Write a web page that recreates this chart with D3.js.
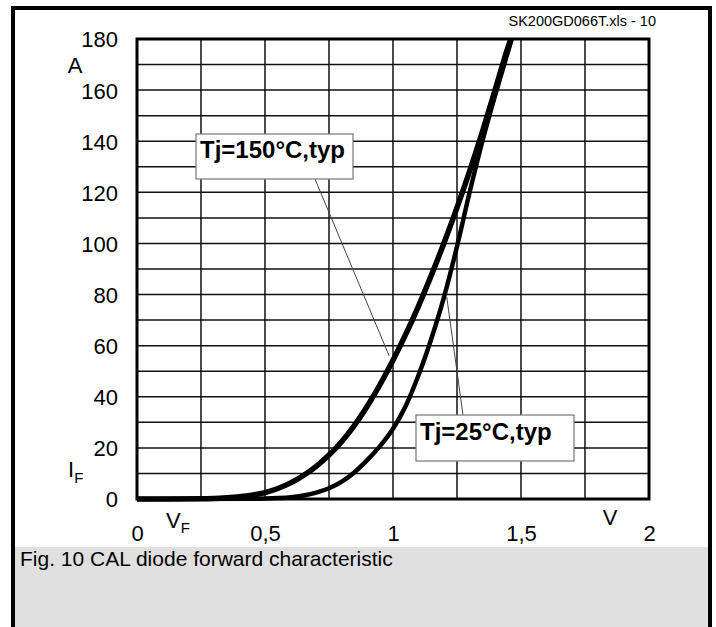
<!DOCTYPE html>
<html>
<head>
<meta charset="utf-8">
<script src="https://cdn.jsdelivr.net/npm/d3@7"></script>
<style>
  html, body { margin: 0; padding: 0; background: #fff; }
  svg { display: block; }
  text { font-family: "Liberation Sans", Arial, Helvetica, sans-serif; }
</style>
</head>
<body>
<svg id="chart" width="716" height="627"></svg>
<script>
// ---- data ----
const xTicks = [0, 0.5, 1, 1.5, 2];
const xTickLabels = ["0", "0,5", "1", "1,5", "2"];
const yTicks = [0, 20, 40, 60, 80, 100, 120, 140, 160, 180];
const yTickLabels = ["0", "20", "40", "60", "80", "100", "120", "140", "160", "180"];

// Tj = 150 °C, typ  (V_F in V, I_F in A)
const v150 = [0, 0.25, 0.30, 0.35, 0.40, 0.45, 0.50, 0.55, 0.60, 0.65, 0.70, 0.75, 0.80, 0.85, 0.90, 0.95, 1.00, 1.05, 1.10, 1.15, 1.20, 1.25, 1.30, 1.35, 1.40, 1.45, 1.46];
const i150 = [0, 0.05, 0.2, 0.5, 0.9, 1.5, 2.5, 4.1, 6.3, 9.2, 12.8, 17.2, 22.5, 28.9, 36.4, 44.9, 54.3, 64.5, 75.6, 87.6, 100.4, 114.0, 128.5, 144.0, 160.5, 177.0, 180];

// Tj = 25 °C, typ
const v25 = [0, 0.45, 0.50, 0.55, 0.60, 0.65, 0.70, 0.75, 0.80, 0.85, 0.90, 0.95, 1.00, 1.05, 1.10, 1.15, 1.20, 1.25, 1.30, 1.35, 1.40, 1.45, 1.464];
const i25 = [0, 0.05, 0.15, 0.35, 0.7, 1.4, 2.5, 4.2, 6.8, 10.5, 15.3, 20.8, 27.5, 36.5, 48.5, 62.8, 79.3, 98.8, 120.3, 140.3, 158.3, 175.3, 180];

const label150 = "Tj=150°C,typ";
const label25 = "Tj=25°C,typ";
const caption = "Fig. 10 CAL diode forward characteristic";
const fileTag = "SK200GD066T.xls - 10";

// ---- layout ----
const svg = d3.select("#chart");
const x = d3.scaleLinear().domain([0, 2]).range([137, 649]);
const y = d3.scaleLinear().domain([0, 180]).range([499, 39]);

// outer frame & caption panel
svg.append("rect").attr("x", 13).attr("y", 547).attr("width", 697).attr("height", 90)
  .attr("fill", "#e0e0e0");
svg.append("path").attr("d", "M13,640 V8 H710 V640")
  .attr("fill", "none").attr("stroke", "#000").attr("stroke-width", 4);

// grid
const gx = d3.range(0, 2.0001, 0.25);
const gy = d3.range(0, 180.0001, 10);
svg.append("g").selectAll("line").data(gx).join("line")
  .attr("x1", d => x(d)).attr("x2", d => x(d)).attr("y1", y(0)).attr("y2", y(180))
  .attr("stroke", "#111").attr("stroke-width", 1.5);
svg.append("g").selectAll("line").data(gy).join("line")
  .attr("x1", x(0)).attr("x2", x(2)).attr("y1", d => y(d)).attr("y2", d => y(d))
  .attr("stroke", "#111").attr("stroke-width", 1.5);
svg.append("rect").attr("x", x(0)).attr("y", y(180))
  .attr("width", x(2) - x(0)).attr("height", y(0) - y(180))
  .attr("fill", "none").attr("stroke", "#000").attr("stroke-width", 3);

// axes labels via d3 axes (no domain/tick lines)
const xAxis = d3.axisBottom(x).tickValues(xTicks).tickSize(0).tickPadding(0)
  .tickFormat((d, i) => xTickLabels[i]);
const gxA = svg.append("g").attr("transform", `translate(0,${y(0) + 26})`).call(xAxis);
gxA.select(".domain").remove();
gxA.selectAll("text").attr("font-size", 22).attr("fill", "#000")
  .attr("font-family", "'Liberation Sans', Arial, sans-serif").attr("dy", "0.72em");

const yAxis = d3.axisLeft(y).tickValues(yTicks).tickSize(0).tickPadding(0)
  .tickFormat((d, i) => yTickLabels[i]);
const gyA = svg.append("g").attr("transform", `translate(${x(0) - 19},0)`).call(yAxis);
gyA.select(".domain").remove();
gyA.selectAll("text").attr("font-size", 22).attr("fill", "#000")
  .attr("font-family", "'Liberation Sans', Arial, sans-serif").attr("dy", "0.36em");

// unit labels
svg.append("text").attr("x", 75).attr("y", 73).attr("text-anchor", "middle")
  .attr("font-size", 22).text("A");
const iF = svg.append("text").attr("x", 68).attr("y", 477).attr("font-size", 22);
iF.append("tspan").text("I");
iF.append("tspan").attr("font-size", 15).attr("dy", 6).text("F");
const vF = svg.append("text").attr("x", 166).attr("y", 528).attr("font-size", 22);
vF.append("tspan").text("V");
vF.append("tspan").attr("font-size", 15).attr("dy", 5).text("F");
svg.append("text").attr("x", 610).attr("y", 525).attr("text-anchor", "middle")
  .attr("font-size", 22).text("V");

// file tag
svg.append("text").attr("x", 656).attr("y", 26).attr("text-anchor", "end")
  .attr("font-size", 14.5).text(fileTag);

// curves
const line = d3.line().x(d => x(d[0])).y(d => y(d[1])).curve(d3.curveMonotoneX);
const pts150 = v150.map((v, i) => [v, i150[i]]);
const pts25 = v25.map((v, i) => [v, i25[i]]);
svg.append("path").datum(pts25).attr("d", line)
  .attr("fill", "none").attr("stroke", "#000").attr("stroke-width", 4.5)
  .attr("stroke-linejoin", "round");
svg.append("path").datum(pts150).attr("d", line)
  .attr("fill", "none").attr("stroke", "#000").attr("stroke-width", 5.5)
  .attr("stroke-linejoin", "round");

// leader lines
svg.append("line").attr("x1", 315).attr("y1", 179).attr("x2", x(0.985)).attr("y2", y(56))
  .attr("stroke", "#444").attr("stroke-width", 1);
svg.append("line").attr("x1", 463).attr("y1", 415).attr("x2", x(1.21)).attr("y2", y(79))
  .attr("stroke", "#444").attr("stroke-width", 1);

// annotation boxes
function box(x0, y0, w, h, tx, ty, txt) {
  svg.append("rect").attr("x", x0).attr("y", y0).attr("width", w).attr("height", h)
    .attr("fill", "#fff").attr("stroke", "#777").attr("stroke-width", 1.2);
  svg.append("text").attr("x", tx).attr("y", ty).attr("font-size", 24)
    .attr("font-weight", "bold").text(txt);
}
box(196, 134, 157, 45, 200, 158, label150);
box(416, 415, 158, 46, 420, 439.5, label25);

// caption
svg.append("text").attr("x", 20).attr("y", 566).attr("font-size", 21).text(caption);
</script>
</body>
</html>
